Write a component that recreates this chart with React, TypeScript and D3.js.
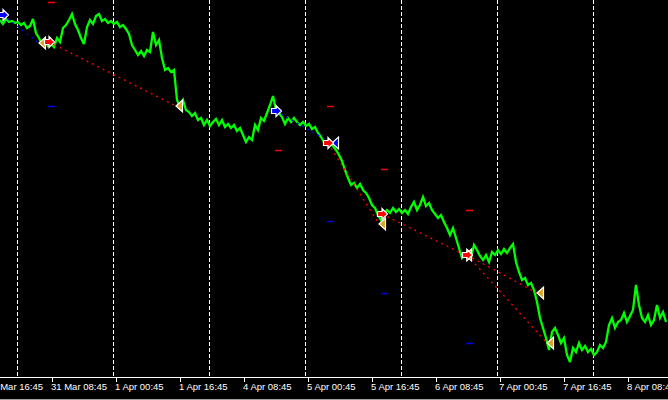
import * as d3 from "d3";
import React from "react";

const W = 668;
const H = 400;
const AXIS_Y = 377;

// close prices (points), one sample every 3 bars (M15)
const barStep = 3;
const closes = [
  380, 376, 381, 378, 379, 377, 378, 375, 377, 372, 374, 381, 367, 362, 356, 360, 354, 356, 353, 362,
  358, 372, 375, 380, 386, 376, 370, 362, 356, 373, 380, 376, 384, 386, 379, 381, 377, 379, 376, 378,
  373, 375, 371, 366, 355, 350, 345, 349, 344, 350, 348, 368, 355, 360, 342, 330, 332, 328, 330, 300,
  293, 300, 290, 288, 284, 287, 280, 282, 275, 280, 274, 278, 281, 275, 280, 273, 276, 272, 275, 269,
  272, 265, 258, 263, 260, 275, 270, 282, 279, 287, 295, 304, 290, 287, 283, 276, 282, 278, 282, 278,
  275, 278, 274, 276, 271, 273, 267, 263, 258, 255, 259, 254, 250, 245, 239, 230, 222, 215, 217, 212,
  216, 210, 207, 202, 195, 192, 185, 180, 186, 190, 187, 192, 188, 191, 187, 190, 186, 193, 198, 190,
  195, 203, 194, 197, 190, 186, 182, 185, 178, 172, 165, 172, 162, 152, 142, 145, 148, 142, 155, 150,
  144, 140, 145, 138, 148, 145, 150, 146, 151, 147, 152, 156, 138, 128, 120, 122, 115, 117, 110, 98,
  82, 72, 62, 50, 68, 72, 65, 57, 62, 45, 38, 52, 48, 57, 50, 54, 48, 51, 45, 48,
  55, 52, 58, 75, 82, 72, 78, 80, 87, 78, 84, 90, 115, 95, 82, 78, 85, 75, 80, 95,
  82, 88, 78,
];

// trades
const tradeSide = ["buy", "sell", "buy", "sell", "sell", "sell", "sell"];
const openBar = [3, 49, 276, 328, 382, 467, 467];
const openPrice = [385, 358, 289, 257, 186, 145, 145];
const closeBar = [39, 176, 332, 379, 465, 537, 547];
const closePrice = [357, 294, 257, 176, 145, 107, 57];
const closeKind = ["gold", "gold", "blue", "gold", "gold", "gold", "gold"];

// stop loss / take profit levels
const levelBar = [49, 49, 276, 328, 328, 382, 382, 467, 467];
const levelPrice = [398, 294, 250, 294, 179, 231, 107, 190, 57];
const levelKind = ["sl", "tp", "sl", "sl", "tp", "sl", "tp", "sl", "tp"];

// time axis
const gridBars = [17, 113, 209, 305, 401, 497, 593];
const tickBars = [-12, 52, 116, 180, 244, 308, 372, 436, 500, 564, 628];
const tickLabels = [
  "30 Mar 16:45", "31 Mar 08:45", "1 Apr 00:45", "1 Apr 16:45", "4 Apr 08:45", "5 Apr 00:45",
  "5 Apr 16:45", "6 Apr 08:45", "7 Apr 00:45", "7 Apr 16:45", "8 Apr 08:45",
];

const colors = {
  buy: "#0000ff",
  sell: "#ff0000",
  gold: "#daa520",
  blue: "#0000ff",
  sl: "#ff0000",
  tp: "#0000e0",
};

const arrowPath = "M-4.5,-2.5L0,-2.5L0,-5.5L5.5,0L0,5.5L0,2.5L-4.5,2.5Z";
const triPath = "M0,0L6.5,-6L6.5,6Z";

export default function App() {
  const x = d3.scaleLinear().domain([0, W]).range([0, W]);
  const y = d3.scaleLinear().domain([0, 400]).range([400, 0]);

  const line = d3
    .line<number>()
    .x((_, i) => x(i * barStep))
    .y((d) => y(d));

  return (
    <svg
      width={W}
      height={H}
      style={{ position: "fixed", left: 0, top: 0, background: "#000", display: "block" }}
    >
      <rect x={0} y={0} width={W} height={H} fill="#000" />
      {gridBars.map((b, i) => (
        <line
          key={"g" + i}
          x1={Math.round(x(b)) + 0.5}
          x2={Math.round(x(b)) + 0.5}
          y1={0}
          y2={AXIS_Y}
          stroke="#fff"
          strokeWidth={1}
          strokeDasharray="4,2"
        />
      ))}

      {/* sl / tp levels */}
      {levelBar.map((b, i) => (
        <line
          key={"l" + i}
          x1={x(b) - 1}
          x2={x(b) + 6}
          y1={Math.round(y(levelPrice[i])) + 0.5}
          y2={Math.round(y(levelPrice[i])) + 0.5}
          stroke={colors[levelKind[i] as "sl" | "tp"]}
          strokeWidth={1.5}
        />
      ))}

      <path
        d={line(closes) || ""}
        fill="none"
        stroke="#00ff00"
        strokeWidth={2.3}
        strokeLinejoin="miter"
        strokeMiterlimit={3}
      />

      {/* trade lines */}
      {openBar.map((b, i) => (
        <line
          key={"t" + i}
          x1={x(b)}
          y1={y(openPrice[i])}
          x2={x(closeBar[i])}
          y2={y(closePrice[i])}
          stroke={colors[tradeSide[i] as "buy" | "sell"]}
          strokeWidth={1.3}
          strokeDasharray="2,4"
        />
      ))}

      {/* close markers */}
      {closeBar.map((b, i) => (
        <path
          key={"c" + i}
          d={triPath}
          transform={`translate(${x(b)},${y(closePrice[i])})`}
          fill={colors[closeKind[i] as "gold" | "blue"]}
          stroke="#fff"
          strokeWidth={1.2}
        />
      ))}

      {/* open markers */}
      {openBar.map((b, i) => (
        <path
          key={"o" + i}
          d={arrowPath}
          transform={`translate(${x(b)},${y(openPrice[i])})`}
          fill={colors[tradeSide[i] as "buy" | "sell"]}
          stroke="#fff"
          strokeWidth={1.2}
        />
      ))}

      {/* time axis */}
      <line x1={0} x2={W} y1={AXIS_Y + 0.5} y2={AXIS_Y + 0.5} stroke="#fff" strokeWidth={1} />
      {tickBars.map((b, i) => (
        <g key={"k" + i}>
          <line
            x1={Math.round(x(b)) + 0.5}
            x2={Math.round(x(b)) + 0.5}
            y1={AXIS_Y + 1}
            y2={AXIS_Y + 5}
            stroke="#fff"
          />
          <text
            x={x(b) - 1}
            y={390}
            fill="#fff"
            fontFamily="Liberation Sans, Arial, sans-serif"
            fontSize={9.5}
          >
            {tickLabels[i]}
          </text>
        </g>
      ))}
      <line x1={0} x2={W} y1={399.5} y2={399.5} stroke="#a0a0a0" />
    </svg>
  );
}
